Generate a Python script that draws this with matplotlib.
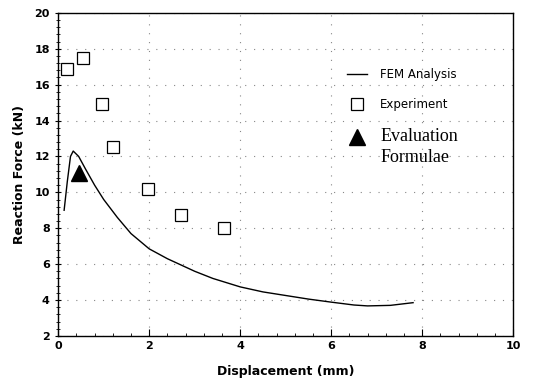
import matplotlib
matplotlib.use("Agg")
import matplotlib.pyplot as plt
from matplotlib.lines import Line2D
from matplotlib.ticker import MultipleLocator

fem_x = [0.13, 0.2, 0.27, 0.33, 0.45, 0.6, 0.8, 1.0, 1.3, 1.6, 2.0, 2.4, 2.7, 3.0, 3.4, 4.0, 4.5, 5.0, 5.5, 6.0, 6.5, 6.8, 7.3, 7.8]
fem_y = [9.0, 10.6, 12.0, 12.3, 12.0, 11.3, 10.4, 9.6, 8.6, 7.7, 6.85, 6.3, 5.95, 5.6, 5.2, 4.73, 4.45, 4.25, 4.05, 3.88, 3.72, 3.67, 3.7, 3.85]
exp_x = [0.2, 0.55, 0.96, 1.2, 1.98, 2.7, 3.65]
exp_y = [16.9, 17.5, 14.9, 12.5, 10.2, 8.75, 8.0]
eval_x = [0.46]
eval_y = [11.05]

fig = plt.figure(figsize=(5.34, 3.91), dpi=100)
ax = fig.add_axes([0.109, 0.141, 0.852, 0.826])

ax.plot(fem_x, fem_y, color="black", lw=1.0)
ax.plot(exp_x, exp_y, ls="none", marker="s", ms=8, mfc="white", mec="black", mew=0.9)
ax.plot(eval_x, eval_y, ls="none", marker="^", ms=12, color="black")

ax.set_xlim(0, 10)
ax.set_ylim(2, 20)
ax.xaxis.set_major_locator(MultipleLocator(2))
ax.yaxis.set_major_locator(MultipleLocator(2))
ax.xaxis.set_minor_locator(MultipleLocator(0.4))
ax.yaxis.set_minor_locator(MultipleLocator(0.4))
ax.tick_params(axis="x", which="both", direction="in", top=False)
ax.tick_params(axis="y", which="both", direction="inout", right=False)
ax.tick_params(which="major", length=5, labelsize=8)
ax.tick_params(which="minor", length=2.5)
for lab in ax.get_xticklabels() + ax.get_yticklabels():
    lab.set_fontweight("bold")
ax.grid(True, which="major", ls=(0, (1, 7)), color="#888888", lw=0.8)

for s in ax.spines.values():
    s.set_linewidth(1.0)

ax.set_xlabel("Displacement (mm)", fontsize=9, fontweight="bold", labelpad=10)
ax.set_ylabel("Reaction Force (kN)", fontsize=9, fontweight="bold", labelpad=6)

handles = [
    Line2D([], [], color="black", lw=1.0),
    Line2D([], [], ls="none", marker="s", ms=8, mfc="white", mec="black", mew=0.9),
    Line2D([], [], ls="none", marker="^", ms=12, color="black"),
]
labels = ["FEM Analysis", "Experiment", "Evaluation"]
leg = ax.legend(handles, labels, loc="upper left", bbox_to_anchor=(0.635, 0.83),
                frameon=False, fontsize=8.5, handlelength=1.7, handletextpad=1.1,
                labelspacing=1.45, borderpad=0, borderaxespad=0)
t = leg.get_texts()[2]
t.set_fontfamily("Liberation Serif")
t.set_fontsize(13)

fig.canvas.draw()
bb = t.get_window_extent()
fig.text(bb.x0, bb.y0 - 21, "Formulae", family="Liberation Serif", fontsize=13,
         ha="left", va="bottom", transform=None)

fig.savefig("out.png", dpi=100)
